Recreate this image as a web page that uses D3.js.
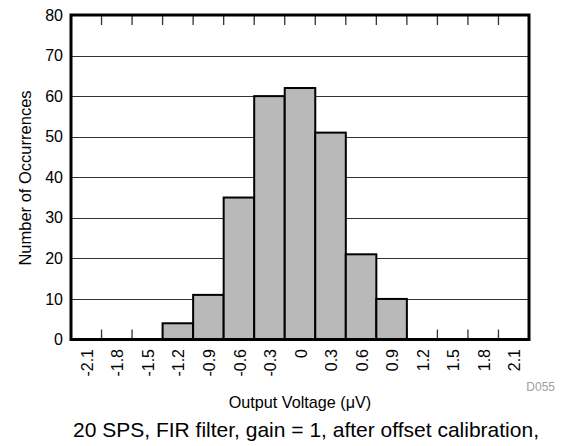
<!DOCTYPE html>
<html>
<head>
<meta charset="utf-8">
<script src="https://cdn.jsdelivr.net/npm/d3@7"></script>
<style>
  html, body { margin: 0; padding: 0; background: #fff; }
  svg { display: block; font-family: Arial, "Liberation Sans", sans-serif; }
</style>
</head>
<body>
<svg id="chart" width="565" height="446"></svg>
<script>
const binLabels = ["-2.1","-1.8","-1.5","-1.2","-0.9","-0.6","-0.3","0","0.3","0.6","0.9","1.2","1.5","1.8","2.1"];
const counts = [0,0,0,4,11,35,60,62,51,21,10,0,0,0,0];
const yTicks = [0,10,20,30,40,50,60,70,80];
const yTitle = "Number of Occurrences";
const xTitle = "Output Voltage (\u03BCV)";
const caption = "20 SPS, FIR filter, gain = 1, after offset calibration,";
const figId = "D055";

const L = 71, R = 529, T = 15, B = 339.5;
const svg = d3.select("#chart");

const x = d3.scaleBand().domain(binLabels).range([L, R]).padding(0);
const y = d3.scaleLinear().domain([0, 80]).range([B, T]);

// gridlines
svg.append("g").selectAll("line")
  .data(yTicks.filter(d => d > 0 && d < 80))
  .join("line")
  .attr("x1", L).attr("x2", R)
  .attr("y1", d => Math.round(y(d)) + 0.5).attr("y2", d => Math.round(y(d)) + 0.5)
  .attr("stroke", "#333").attr("stroke-width", 1);

// ticks at bin edges (top and bottom, inward)
const edges = binLabels.slice(1).map(l => x(l));
const tickG = svg.append("g");
tickG.selectAll("line.tt").data(edges).join("line").attr("class","tt")
  .attr("x1", d => d).attr("x2", d => d).attr("y1", T).attr("y2", T + 10)
  .attr("stroke", "#333").attr("stroke-width", 1.3);
tickG.selectAll("line.bt").data(edges).join("line").attr("class","bt")
  .attr("x1", d => d).attr("x2", d => d).attr("y1", B).attr("y2", B - 10)
  .attr("stroke", "#333").attr("stroke-width", 1.3);

// bars
svg.append("g").selectAll("rect")
  .data(binLabels.map((l, i) => ({l, v: counts[i]})).filter(d => d.v > 0))
  .join("rect")
  .attr("x", d => x(d.l)).attr("width", x.bandwidth())
  .attr("y", d => y(d.v)).attr("height", d => B - y(d.v))
  .attr("fill", "#b9b9b9").attr("stroke", "#000").attr("stroke-width", 2);

// frame
svg.append("rect").attr("x", L).attr("y", T).attr("width", R - L).attr("height", B - T)
  .attr("fill", "none").attr("stroke", "#000").attr("stroke-width", 3);

// y tick labels
svg.append("g").selectAll("text").data(yTicks).join("text")
  .attr("x", 63).attr("y", d => y(d)).attr("dy", "0.35em")
  .attr("text-anchor", "end").attr("font-size", 16).attr("fill", "#000")
  .text(d => d);

// x tick labels rotated
svg.append("g").selectAll("text").data(binLabels).join("text")
  .attr("transform", d => `translate(${x(d) + x.bandwidth() / 2 + 1},349) rotate(-90)`)
  .attr("dy", "0.35em").attr("text-anchor", "end")
  .attr("font-size", 16).attr("fill", "#000")
  .text(d => d);

// y title
svg.append("text")
  .attr("transform", `translate(31,178) rotate(-90)`)
  .attr("text-anchor", "middle").attr("font-size", 16.5).attr("fill", "#000")
  .text(yTitle);

// x title
svg.append("text").attr("x", 300).attr("y", 408)
  .attr("text-anchor", "middle").attr("font-size", 16.2).attr("fill", "#000")
  .text(xTitle);

// figure id
svg.append("text").attr("x", 555).attr("y", 391)
  .attr("text-anchor", "end").attr("font-size", 12).attr("fill", "#a0a0a0")
  .text(figId);

// caption
svg.append("text").attr("x", 306).attr("y", 437)
  .attr("text-anchor", "middle").attr("font-size", 21).attr("fill", "#000")
  .text(caption);
</script>
</body>
</html>
